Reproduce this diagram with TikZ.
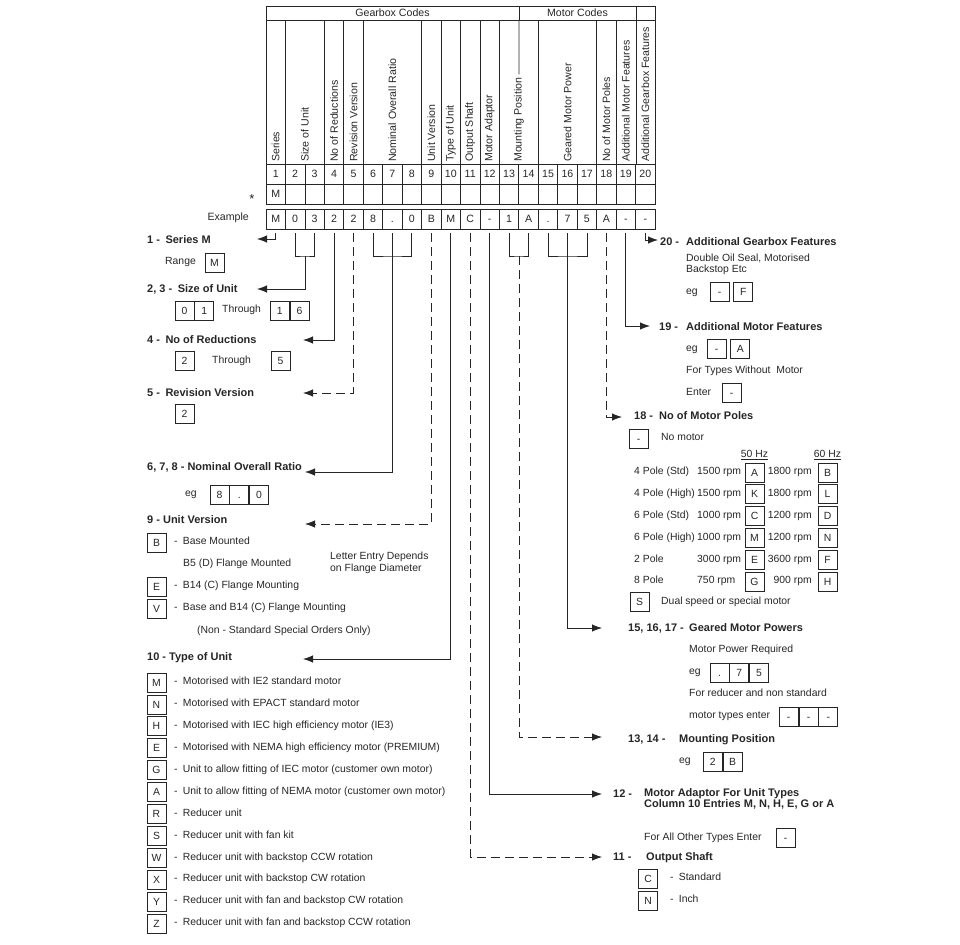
\documentclass[tikz,border=0pt]{standalone}
\usepackage{fontspec}
\setmainfont{Liberation Sans}
\usetikzlibrary{arrows.meta,positioning}
\definecolor{ink}{RGB}{38,38,38}
\newcommand{\txt}{\fontsize{10.4}{12}\selectfont}
\newcommand{\tbt}{\fontsize{10.6}{12}\selectfont}
\newcommand{\ttl}{\fontsize{11}{12}\selectfont\bfseries}
\tikzset{
  tbl/.style={draw=ink,line width=0.8pt},
  cell/.style={draw=ink,line width=0.8pt,minimum width=19.45pt,minimum height=20pt,
               inner sep=0pt,font=\tbt,text=ink,text height=7.6pt,text depth=0.4pt},
  keybox/.style={draw=ink,line width=0.8pt,minimum width=19pt,minimum height=19pt,
                 inner sep=0pt,font=\txt,text=ink,text height=7.6pt,text depth=0.4pt},
  vlbl/.style={rotate=90,anchor=west,inner sep=1pt,font=\tbt,text=ink},
  title/.style={anchor=west,inner sep=0pt,font=\ttl,text=ink,text height=8pt,text depth=2pt},
  txt/.style={anchor=west,inner sep=0pt,font=\txt,text=ink,text height=7.6pt,text depth=2pt},
  arr/.style={-{Latex[length=10pt,width=7.5pt]},draw=ink,line width=0.8pt},
  gap/.style={shorten <=4pt},
  dsh/.style={dash pattern=on 9pt off 5pt},
  brk/.style={draw=ink,line width=0.8pt,shorten <=4pt,shorten >=4pt},
}

\begin{document}
\begin{tikzpicture}[x=1pt,y=-1pt]
\useasboundingbox (0,0) rectangle (960,944);

% code table
\draw[tbl] (266,6) rectangle (655,204);
\foreach \y in {20,164,184} \draw[tbl] (266,\y) -- (655,\y);
\draw[tbl] (519,6) -- (519,20);
\draw[tbl] (636,6) -- (636,164);
\foreach \k in {1,3,4,5,8,9,10,11,12,14,17,18}
  \draw[tbl] ({266+\k*19.45},20) -- ({266+\k*19.45},164);
\foreach \k in {1,...,19}
  \draw[tbl] ({266+\k*19.45},164) -- ({266+\k*19.45},204);
\node[font=\tbt,text=ink] (gbx) at (392.5,13) {Gearbox Codes};
\node[font=\tbt,text=ink] (mtr) at (577.5,13) {Motor Codes};

\foreach \x/\t [count=\n] in {275.7/Series, 304.9/Size of Unit, 334.1/No of Reductions,
    353.5/Revision Version, 392.4/Nominal Overall Ratio, 431.3/Unit Version,
    450.8/Type of Unit, 470.2/Output Shaft, 489.7/Motor Adaptor,
    518.9/Mounting Position, 567.5/Geared Motor Power, 606.4/No of Motor Poles,
    625.8/Additional Motor Features, 645.3/Additional Gearbox Features}
  \node[vlbl] (v\n) at (\x,163) {\t};
\draw[tbl,shorten >=2pt] (519,20) -- (v10.east);

\foreach \i in {1,...,20}
  \node[font=\tbt,text=ink] (n\i) at ({266+(\i-0.5)*19.45},174) {\i};
\node[font=\tbt,text=ink] (s1) at (275.7,194) {M};
\node[font=\fontsize{13}{13}\selectfont,text=ink,anchor=base] (star) at (252,203) {*};

% example row
\node[anchor=east,inner sep=0pt,font=\tbt,text=ink] (exl) at (249,218) {Example};
\foreach \v [count=\i] in {M,0,3,2,2,8,.,0,B,M,C,-,1,A,.,7,5,A,-,-}
  \node[cell] (e\i) at ({266+(\i-0.5)*19.45},219) {\v};

% connector ends
\coordinate (b23) at (304.9,256);
\coordinate (b68) at (392.4,256);
\coordinate (b1314) at (518.9,256);
\coordinate (b1517) at (567.5,256);
\coordinate (a1) at (257,239);
\coordinate (a23) at (257,289);
\coordinate (a4) at (303,340);
\coordinate (a5) at (303,393);
\coordinate (a68) at (305,472);
\coordinate (a9) at (305,524);
\coordinate (a10) at (303,659);
\coordinate (a11) at (602,857);
\coordinate (a12) at (602,794);
\coordinate (a1314) at (602,737);
\coordinate (a1517) at (602,628);
\coordinate (a18) at (622,417);
\coordinate (a19) at (650,326);
\coordinate (a20) at (658,240);

\draw[arr,gap] (e1.south) |- (a1);
\draw[brk] (e2.south) |- (b23) -| (e3.south);
\draw[arr] (b23) |- (a23);
\draw[arr,gap] (e4.south) |- (a4);
\draw[arr,gap,dsh] (e5.south) |- (a5);
\draw[brk] (e6.south) |- (b68) -| (e8.south);
\draw[arr,gap] (e7.south) |- (a68);
\draw[arr,gap,dsh] (e9.south) |- (a9);
\draw[arr,gap] (e10.south) |- (a10);
\draw[arr,gap,dsh] (e11.south) |- (a11);
\draw[arr,gap] (e12.south) |- (a12);
\draw[brk] (e13.south) |- (b1314) -| (e14.south);
\draw[arr,dsh] (b1314) |- (a1314);
\draw[brk] (e15.south) |- (b1517) -| (e17.south);
\draw[arr,gap] (e16.south) |- (a1517);
\draw[arr,gap,dsh] (e18.south) |- (a18);
\draw[arr,gap] (e19.south) |- (a19);
\draw[arr,gap] (e20.south) |- (a20);

% left side
\node[title] (t1) at (147,240) {1 -\enspace Series M};
\node[txt] (rng) at (165,262) {Range};
\node[keybox] (kM) at (214.5,262.5) {M};

\node[title] (t23) at (147,289) {2, 3 -\enspace Size of Unit};
\node[keybox] (s0) at (184.5,310.5) {0};
\node[keybox,right=0pt of s0] (s1b) {1};
\node[txt] (thr1) at (222,310) {Through};
\node[keybox] (s2) at (279.8,310.5) {1};
\node[keybox,right=0pt of s2] (s3) {6};

\node[title] (t4) at (147,340) {4 -\enspace No of Reductions};
\node[keybox] (r2) at (184.5,361) {2};
\node[txt] (thr2) at (212,361) {Through};
\node[keybox] (r5) at (280.5,361) {5};

\node[title] (t5) at (147,393) {5 -\enspace Revision Version};
\node[keybox] (v2) at (184.5,414) {2};

\node[title] (t68) at (147,467) {6, 7, 8 - Nominal Overall Ratio};
\node[txt] (eg68) at (185,494) {eg};
\node[keybox] (o8) at (219.5,495) {8};
\node[keybox,right=0pt of o8] (od) {.};
\node[keybox,right=0pt of od] (o0) {0};

\node[title] (t9) at (147,520) {9 - Unit Version};
\node[keybox] (uB) at (156.5,542.5) {B};
\node[txt] (uBt) at (174,542) {-\enspace Base Mounted};
\node[txt] (uD) at (183,564) {B5 (D) Flange Mounted};
\node[txt] (let1) at (330,557) {Letter Entry Depends};
\node[txt] (let2) at (330,569) {on Flange Diameter};
\node[keybox] (uE) at (156.5,586.5) {E};
\node[txt] (uEt) at (174,586) {-\enspace B14 (C) Flange Mounting};
\node[keybox] (uV) at (156.5,608.5) {V};
\node[txt] (uVt) at (174,608) {-\enspace Base and B14 (C) Flange Mounting};
\node[txt] (uNs) at (197,631) {(Non - Standard Special Orders Only)};

\node[title] (t10) at (147,657) {10 - Type of Unit};
\foreach \l/\t [count=\k from 0] in {M/Motorised with IE2 standard motor,
    N/Motorised with EPACT standard motor,
    H/Motorised with IEC high efficiency motor (IE3),
    E/Motorised with NEMA high efficiency motor (PREMIUM),
    G/Unit to allow fitting of IEC motor (customer own motor),
    A/Unit to allow fitting of NEMA motor (customer own motor),
    R/Reducer unit, S/Reducer unit with fan kit,
    W/Reducer unit with backstop CCW rotation,
    X/Reducer unit with backstop CW rotation,
    Y/Reducer unit with fan and backstop CW rotation,
    Z/Reducer unit with fan and backstop CCW rotation}{
  \node[keybox] (ty\k) at (156.5,{682.5+\k*21.9}) {\l};
  \node[txt] (tyt\k) at (174,{682+\k*21.9}) {-\enspace \t};
}

% right side
\node[title] (n20) at (660,242) {20 -};
\node[title] (t20) at (686,242) {Additional Gearbox Features};
\node[txt] (gf1) at (686,259) {Double Oil Seal, Motorised};
\node[txt] (gf2) at (686,270) {Backstop Etc};
\node[txt] (eg20) at (686,292) {eg};
\node[keybox] (g1) at (719.5,291.5) {-};
\node[keybox,right=4pt of g1] (g2) {F};

\node[title] (n19) at (659,327) {19 -};
\node[title] (t19) at (686,327) {Additional Motor Features};
\node[txt] (eg19) at (686,349) {eg};
\node[keybox] (m1) at (716.5,348.5) {-};
\node[keybox,right=4pt of m1] (m2) {A};
\node[txt] (mw) at (686,371) {For Types Without~ Motor};
\node[txt] (me) at (686,393) {Enter};
\node[keybox] (m3) at (731.5,392.5) {-};

\node[title] (n18) at (634,416) {18 -};
\node[title] (t18) at (659,416) {No of Motor Poles};
\node[keybox] (p0) at (638.5,438.5) {-};
\node[txt] (p0t) at (661,438) {No motor};
\node[font=\txt,text=ink,inner sep=0pt] (hz50) at (754.5,455) {\underline{50 Hz}};
\node[font=\txt,text=ink,inner sep=0pt] (hz60) at (827.5,455) {\underline{60 Hz}};
\foreach \p/\f/\a/\s/\b [count=\k from 0] in {4 Pole (Std)/1500/A/1800/B,
    4 Pole (High)/1500/K/1800/L, 6 Pole (Std)/1000/C/1200/D,
    6 Pole (High)/1000/M/1200/N, 2 Pole/3000/E/3600/F, 8 Pole/750/G/900/H}{
  \node[txt] (pp\k) at (634,{472+\k*21.8}) {\p};
  \node[txt] (pf\k) at (697,{472+\k*21.8}) {\f\ rpm};
  \node[keybox] (pa\k) at (754.5,{472.5+\k*21.8}) {\a};
  \node[txt,anchor=east] (ps\k) at (812,{472+\k*21.8}) {\s\ rpm};
  \node[keybox] (pb\k) at (827.5,{472.5+\k*21.8}) {\b};
}
\node[keybox] (pS) at (639.5,601.5) {S};
\node[txt] (pSt) at (661,602) {Dual speed or special motor};

\node[title] (n1517) at (628,628) {15, 16, 17 -};
\node[title] (t1517) at (689,628) {Geared Motor Powers};
\node[txt] (mp1) at (689,650) {Motor Power Required};
\node[txt] (eg1517) at (689,672) {eg};
\node[keybox] (w1) at (719.5,672.5) {.};
\node[keybox,right=0pt of w1] (w2) {7};
\node[keybox,right=0pt of w2] (w3) {5};
\node[txt] (mp2) at (689,694) {For reducer and non standard};
\node[txt] (mp3) at (689,716) {motor types enter};
\node[keybox] (d1) at (788.7,717) {-};
\node[keybox,right=0pt of d1] (d2) {-};
\node[keybox,right=0pt of d2] (d3) {-};

\node[title] (n1314) at (628,739) {13, 14 -};
\node[title] (t1314) at (679,739) {Mounting Position};
\node[txt] (eg1314) at (679,761) {eg};
\node[keybox] (mp2b) at (712.7,761.5) {2};
\node[keybox,right=0pt of mp2b] (mpB) {B};

\node[title] (n12) at (613,794) {12 -};
\node[title] (t12) at (644,793) {Motor Adaptor For Unit Types};
\node[title] (t12b) at (644,804) {Column 10 Entries M, N, H, E, G or A};
\node[txt] (ma) at (644,838) {For All Other Types Enter};
\node[keybox] (ma1) at (785.5,837.5) {-};

\node[title] (n11) at (613,857) {11 -};
\node[title] (t11) at (646,857) {Output Shaft};
\node[keybox] (osC) at (648,878.5) {C};
\node[txt] (osCt) at (670,878) {-\enspace Standard};
\node[keybox] (osN) at (648,901) {N};
\node[txt] (osNt) at (670,900) {-\enspace Inch};
\end{tikzpicture}
\end{document}
